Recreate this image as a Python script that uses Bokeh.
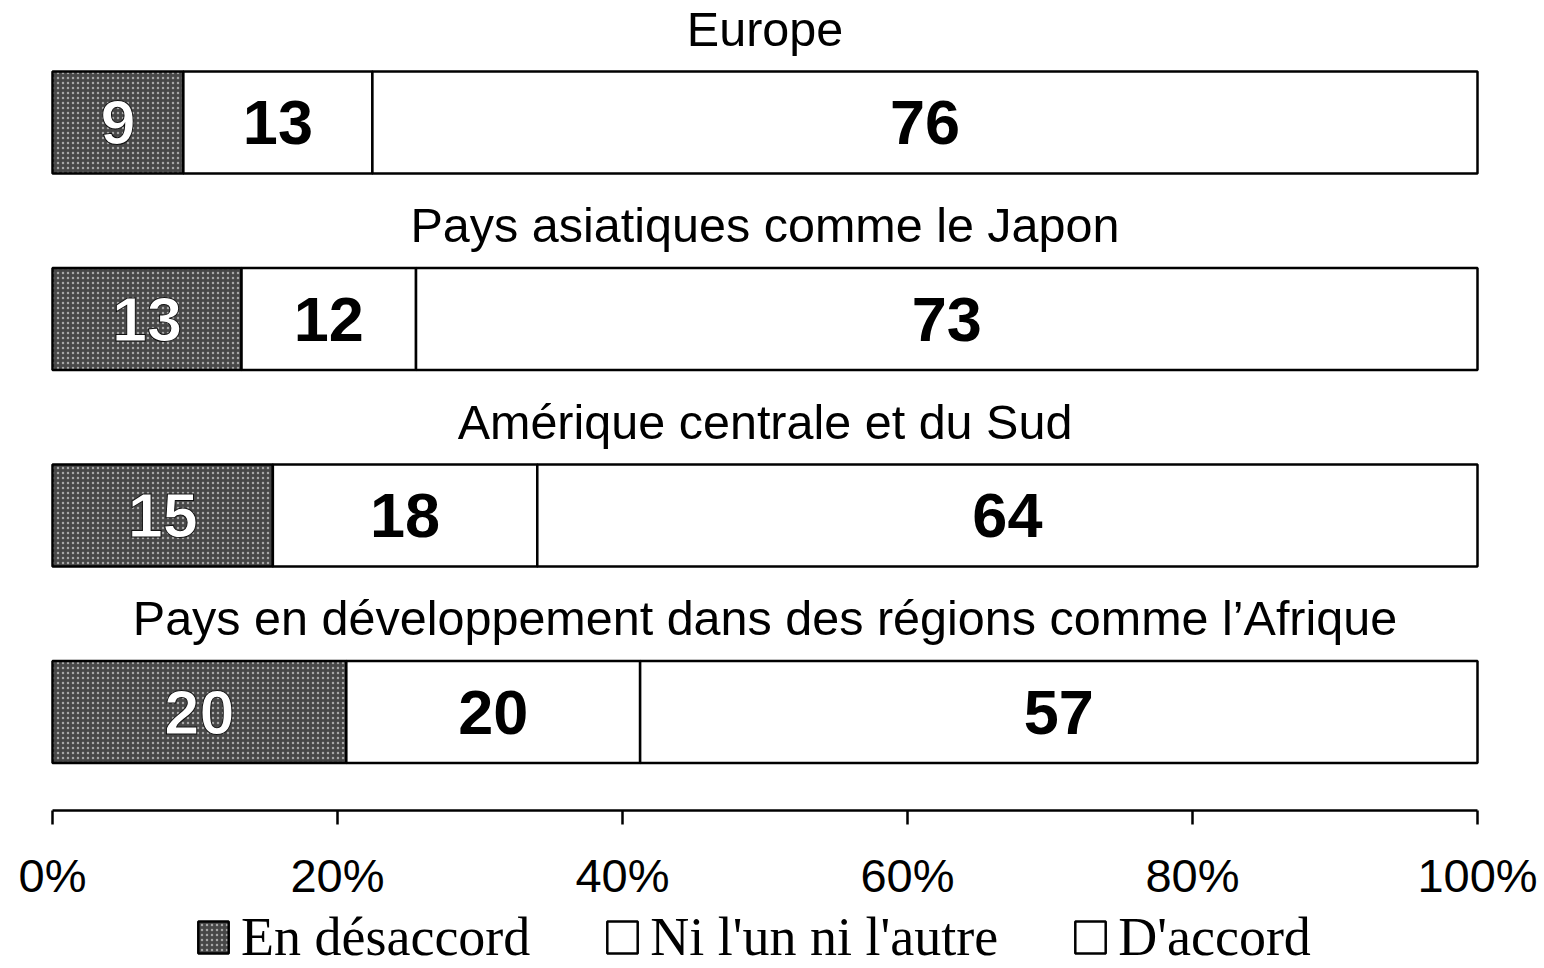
from bokeh.plotting import figure
from bokeh.models import (LinearAxis, FixedTicker, Range1d, Legend, LegendItem,
                          ColumnDataSource)
from bokeh.core.properties import value
from bokeh.embed import file_html
from bokeh.resources import INLINE

# ---- data ----
regions = ["Europe",
           "Pays asiatiques comme le Japon",
           "Amérique centrale et du Sud",
           "Pays en développement dans des régions comme l’Afrique"]
disagree = [9, 13, 15, 20]
neither = [13, 12, 18, 20]
agree = [76, 73, 64, 57]
series_names = ["En désaccord", "Ni l'un ni l'autre", "D'accord"]
tick_values = [0, 20, 40, 60, 80, 100]
tick_labels = ["0%", "20%", "40%", "60%", "80%", "100%"]

# ---- layout constants (pixels) ----
W, H = 1544, 968
X0_PX, X100_PX = 52, 1477
ROW0, ROW_STEP, BAR_H = 122, 196.5, 102
TITLE_OFF = 94
AXIS_Y = 810

px_per_unit = (X100_PX - X0_PX) / 100.0
x_start = -X0_PX / px_per_unit
x_end = (W - X0_PX) / px_per_unit

ys = [ROW0 + i * ROW_STEP for i in range(len(regions))]
totals = [a + b + c for a, b, c in zip(disagree, neither, agree)]
s1 = [a / t * 100 for a, t in zip(disagree, totals)]
s2 = [b / t * 100 for b, t in zip(neither, totals)]
s3 = [c / t * 100 for c, t in zip(agree, totals)]
l1 = [0.0] * len(regions)
r1 = s1
r2 = [a + b for a, b in zip(s1, s2)]
r3 = [a + b for a, b in zip(r2, s3)]

p = figure(width=W, height=H, output_backend="svg", toolbar_location=None,
           x_range=Range1d(x_start, x_end), y_range=Range1d(H, 0),
           x_axis_type=None, y_axis_type=None,
           min_border_left=0, min_border_right=0,
           min_border_top=0, min_border_bottom=0)
p.outline_line_color = None
p.xgrid.visible = False
p.ygrid.visible = False
p.background_fill_color = "white"

src = ColumnDataSource(dict(y=ys, l1=l1, r1=r1, l2=r1, r2=r2, l3=r2, r3=r3,
                            v1=disagree, v2=neither, v3=agree,
                            c1=[(a + b) / 2 for a, b in zip(l1, r1)],
                            c2=[(a + b) / 2 for a, b in zip(r1, r2)],
                            c3=[(a + b) / 2 for a, b in zip(r2, r3)],
                            ty=[y - TITLE_OFF for y in ys],
                            tx=[50] * len(regions),
                            name=regions))

g1 = p.hbar(y="y", left="l1", right="r1", height=BAR_H, source=src,
            fill_color="#474747", hatch_pattern="dot", hatch_color="#a8a8a8",
            hatch_scale=5, hatch_weight=1.2,
            line_color="black", line_width=2.5)
g2 = p.hbar(y="y", left="l2", right="r2", height=BAR_H, source=src,
            fill_color="white", line_color="black", line_width=2.5)
g3 = p.hbar(y="y", left="l3", right="r3", height=BAR_H, source=src,
            fill_color="white", line_color="black", line_width=2.5)

num_font = value("Liberation Sans")
p.text(x="c1", y="y", text="v1", source=src, text_font=num_font,
       text_font_size="63px", text_font_style="bold", text_color="white",
       text_align="center", text_baseline="middle",
       text_outline_color="#111111")
p.text(x="c2", y="y", text="v2", source=src, text_font=num_font,
       text_font_size="63px", text_font_style="bold", text_color="black",
       text_align="center", text_baseline="middle")
p.text(x="c3", y="y", text="v3", source=src, text_font=num_font,
       text_font_size="63px", text_font_style="bold", text_color="black",
       text_align="center", text_baseline="middle")
p.text(x="tx", y="ty", text="name", source=src, text_font=num_font,
       text_font_size="48.5px", text_color="black",
       text_align="center", text_baseline="middle")

ax = LinearAxis(fixed_location=AXIS_Y, bounds=(0, 100))
ax.ticker = FixedTicker(ticks=tick_values)
ax.major_label_overrides = {v: l for v, l in zip(tick_values, tick_labels)}
ax.axis_line_width = 2.5
ax.axis_line_color = "black"
ax.major_tick_line_width = 2.5
ax.major_tick_line_color = "black"
ax.major_tick_in = 0
ax.major_tick_out = 14
ax.minor_tick_line_color = None
ax.major_label_standoff = 24
ax.major_label_text_font = "Liberation Sans"
ax.major_label_text_font_size = "47px"
ax.major_label_text_color = "black"
p.add_layout(ax, "below")

legend = Legend(items=[LegendItem(label=series_names[0], renderers=[g1]),
                       LegendItem(label=series_names[1], renderers=[g2]),
                       LegendItem(label=series_names[2], renderers=[g3])],
                orientation="horizontal", location=(194, 0),
                padding=0, margin=0, spacing=73, label_standoff=9,
                glyph_width=38, glyph_height=40,
                label_text_font="Liberation Serif", label_text_font_size="54px",
                label_text_color="black",
                border_line_alpha=0, background_fill_alpha=0)
p.add_layout(legend, "center")

open("out.html", "w").write(file_html(p, INLINE))
